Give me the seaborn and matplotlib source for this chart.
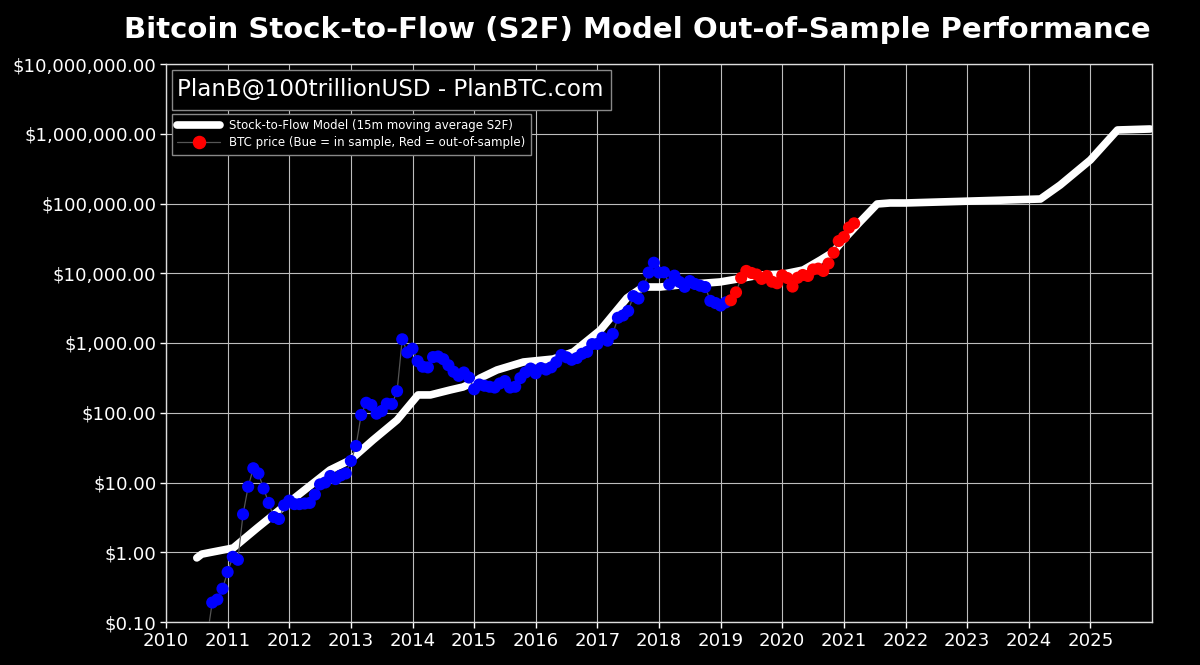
import matplotlib
matplotlib.use("Agg")
import matplotlib.pyplot as plt
from matplotlib.lines import Line2D
from matplotlib.patches import Rectangle
from matplotlib.ticker import FuncFormatter
import numpy as np
import pandas as pd
import seaborn as sns

# S2F model line
model_year = [2010.50, 2010.58, 2010.76, 2011.09, 2011.48, 2011.90, 2012.29, 2012.66, 2012.99,
              2013.36, 2013.75, 2014.09, 2014.29, 2014.61, 2014.82, 2015.00, 2015.10, 2015.37, 2015.80,
              2016.28, 2016.61, 2017.05, 2017.48, 2017.74, 2018.02, 2018.34, 2018.99, 2019.37,
              2019.64, 2020.02, 2020.34, 2020.62, 2020.83, 2020.99, 2021.26, 2021.54, 2021.75, 2022.00,
              2024.19, 2024.51, 2025.00, 2025.44, 2025.97]
model_value = [0.83, 0.94, 1.01, 1.15, 2.23, 4.45, 8.34, 15.1, 21,
               40.7, 78.7, 180, 180, 212, 234, 276, 315, 410, 534,
               589, 743, 1535, 4420, 6350, 6350, 6790, 7500, 8550,
               9440, 9750, 11140, 15500, 20180, 30000, 54300, 98400, 101700, 101700,
               116000, 184000, 421000, 1132000, 1170000]

# monthly BTC price, sep 2010 .. mar 2021
btc_price = [0.06, 0.19, 0.21, 0.30,
             0.52, 0.86, 0.78, 3.5, 8.7, 16, 13.5, 8.2, 5.1, 3.2, 3.0, 4.7,
             5.5, 4.9, 4.9, 5.0, 5.1, 6.7, 9.4, 10, 12.4, 11.2, 12.6, 13.5,
             20.4, 33.4, 93, 139, 129, 97, 106, 135, 133, 204, 1130, 732,
             829, 550, 457, 447, 628, 640, 586, 480, 387, 338, 378, 320,
             217, 254, 244, 236, 230, 263, 285, 230, 236, 314, 378, 430,
             368, 437, 416, 448, 531, 673, 624, 575, 609, 700, 746, 964,
             970, 1190, 1080, 1348, 2300, 2480, 2875, 4700, 4340, 6470, 10230, 14160,
             10220, 10320, 6925, 9240, 7490, 6390, 7730, 7020, 6625, 6340, 4020, 3740,
             3440, 3820, 4100, 5320, 8570, 10800, 10100, 9600, 8300, 9150, 7570, 7190,
             9350, 8530, 6440, 8620, 9450, 9140, 11330, 11650, 10780, 13790, 19700, 29000,
             33100, 45200, 52000]
btc_dates = pd.date_range("2010-09-01", "2021-03-01", freq="MS")
sample_end = pd.Timestamp("2019-02-01")

y_ticks = [0.1, 1, 10, 100, 1000, 10000, 100000, 1000000, 10000000]
x_ticks = list(range(2010, 2026))

df = pd.DataFrame({"date": btc_dates, "price": btc_price})
df["year"] = df["date"].dt.year + (df["date"].dt.month - 1) / 12
df["sample"] = np.where(df["date"] <= sample_end, "in", "out")

sns.set_theme(style="darkgrid")
plt.rcParams["font.family"] = ["DejaVu Sans"]

fig = plt.figure(figsize=(12, 6.65), dpi=100, facecolor="black")
ax = fig.add_axes([166 / 1200, 1 - 622 / 665, (1152 - 166) / 1200, (622 - 64) / 665])
ax.set_facecolor("black")

sns.lineplot(x=model_year, y=model_value, color="white", linewidth=5.5, ax=ax,
             solid_capstyle="round", zorder=3, errorbar=None, estimator=None, sort=False)
sns.lineplot(data=df, x="year", y="price", color="#555555", linewidth=0.9, ax=ax,
             zorder=4, errorbar=None, estimator=None, sort=False)
sns.scatterplot(data=df, x="year", y="price", hue="sample", palette={"in": "#0000ff", "out": "#ff0000"},
                s=76, linewidth=0, ax=ax, zorder=5, legend=False)

ax.set_yscale("log")
ax.set_xlim(2010, 2026)
ax.set_ylim(0.1, 10000000)
ax.set_xticks(x_ticks)
ax.set_yticks(y_ticks)
ax.minorticks_off()
ax.yaxis.set_major_formatter(FuncFormatter(lambda v, p: "${:,.2f}".format(v)))
ax.set_xlabel("")
ax.set_ylabel("")
ax.grid(True, color="#bdbdbd", linewidth=0.8)
ax.set_axisbelow(True)
ax.tick_params(colors="white", labelsize=13.1, length=4, width=1, bottom=True, left=True, pad=3)
for s in ax.spines.values():
    s.set_visible(True)
    s.set_color("#dddddd")
    s.set_linewidth(1)

fig.text(1151 / 1200, 1 - 30 / 665, "Bitcoin Stock-to-Flow (S2F) Model Out-of-Sample Performance",
         color="white", fontsize=21, fontweight="bold", ha="right", va="center")

# name box, drawn by hand so the padding matches
ax.add_patch(Rectangle((6 / 986, 1 - 46 / 558), 439 / 986, 40 / 558, transform=ax.transAxes,
                       facecolor="black", edgecolor="#888888", linewidth=1, zorder=9))
ax.text(11 / 986, 1 - 26 / 558, "PlanB@100trillionUSD - PlanBTC.com", transform=ax.transAxes, color="white",
        fontsize=16.6, va="center", ha="left", zorder=10)

handles = [Line2D([0], [0], color="white", linewidth=5.5, solid_capstyle="round"),
           Line2D([0], [0], color="#555555", linewidth=0.9, marker="o", markersize=8.7,
                  markerfacecolor="red", markeredgecolor="red")]
labels = ["Stock-to-Flow Model (15m moving average S2F)",
          "BTC price (Bue = in sample, Red = out-of-sample)"]
leg = ax.legend(handles, labels, loc="upper left", bbox_to_anchor=(6 / 986, 1 - 50 / 558), fontsize=8.5,
                facecolor="black", edgecolor="#888888", framealpha=1, fancybox=False,
                labelcolor="white", borderaxespad=0, handlelength=3.6,
                labelspacing=0.35, borderpad=0.45)
leg.set_zorder(10)

fig.savefig("out.png", dpi=100, facecolor="black")
